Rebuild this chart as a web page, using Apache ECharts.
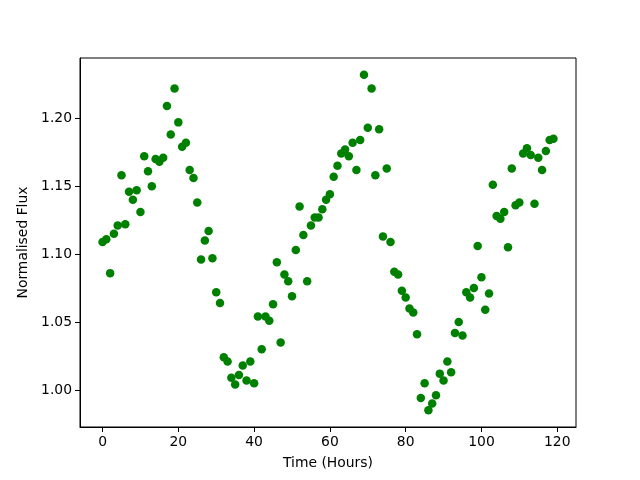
<!DOCTYPE html>
<html>
<head>
<meta charset="utf-8">
<script src="https://cdn.jsdelivr.net/npm/echarts@6/dist/echarts.min.js"></script>
<style>
  html, body { margin: 0; padding: 0; background: #fff; }
  #main { width: 640px; height: 480px; }
</style>
</head>
<body>
<div id="main"></div>
<script>
// 时间 (小时)
var hours = [];
for (var h = 0; h < 120; h++) hours.push(h);

// 归一化通量
var flux = [
  1.109, 1.111, 1.086, 1.115, 1.121, 1.158, 1.122, 1.146, 1.140, 1.147,
  1.131, 1.172, 1.161, 1.150, 1.170, 1.168, 1.171, 1.209, 1.188, 1.222,
  1.197, 1.179, 1.182, 1.162, 1.156, 1.138, 1.096, 1.110, 1.117, 1.097,
  1.072, 1.064, 1.024, 1.021, 1.009, 1.004, 1.011, 1.018, 1.007, 1.021,
  1.005, 1.054, 1.030, 1.054, 1.051, 1.063, 1.094, 1.035, 1.085, 1.080,
  1.069, 1.103, 1.135, 1.114, 1.080, 1.121, 1.127, 1.127, 1.133, 1.140,
  1.144, 1.157, 1.165, 1.174, 1.177, 1.172, 1.182, 1.162, 1.184, 1.232,
  1.193, 1.222, 1.158, 1.192, 1.113, 1.163, 1.109, 1.087, 1.085, 1.073,
  1.068, 1.060, 1.057, 1.041, 0.994, 1.005, 0.985, 0.990, 0.996, 1.012,
  1.007, 1.021, 1.013, 1.042, 1.050, 1.040, 1.072, 1.068, 1.075, 1.106,
  1.083, 1.059, 1.071, 1.151, 1.128, 1.126, 1.131, 1.105, 1.163, 1.136,
  1.138, 1.174, 1.178, 1.173, 1.137, 1.171, 1.162, 1.176, 1.184, 1.185
];

var xTicks = [0, 20, 40, 60, 80, 100, 120];
var yTicks = [1.00, 1.05, 1.10, 1.15, 1.20];

var data = hours.map(function (t, i) { return [t, flux[i]]; });

var font = 'DejaVu Sans';
var myChart = echarts.init(document.getElementById('main'));
var o = {
  backgroundColor: '#fff',
  animation: false,
  grid: {
    left: 80, right: 64, top: 58, bottom: 53,
    show: true, borderColor: '#000', borderWidth: 1, backgroundColor: 'transparent'
  },
  xAxis: {
    type: 'value',
    min: -5.95, max: 124.95,
    name: 'Time (Hours)',
    nameLocation: 'middle',
    nameGap: 29,
    nameTextStyle: { color: '#000', fontFamily: font, fontSize: 13.9 },
    splitLine: { show: false },
    axisLine: { show: true, onZero: false, lineStyle: { color: '#000' } },
    axisTick: { show: true, length: 5, customValues: xTicks, lineStyle: { color: '#000' } },
    axisLabel: {
      customValues: xTicks, margin: 8,
      color: '#000', fontFamily: font, fontSize: 13.9
    }
  },
  yAxis: {
    type: 'value',
    min: 0.9727, max: 1.2444,
    name: 'Normalised Flux',
    nameLocation: 'middle',
    nameGap: 44,
    nameTextStyle: { color: '#000', fontFamily: font, fontSize: 13.9 },
    splitLine: { show: false },
    axisLine: { show: true, onZero: false, lineStyle: { color: '#000' } },
    axisTick: { show: true, length: 5, customValues: yTicks, lineStyle: { color: '#000' } },
    axisLabel: {
      customValues: yTicks, margin: 8,
      color: '#000', fontFamily: font, fontSize: 13.9,
      formatter: function (v) { return v.toFixed(2); }
    }
  },
  series: [{
    type: 'scatter',
    data: data,
    symbolSize: 8.5,
    itemStyle: { color: '#008000', opacity: 1 }
  }]
};
myChart.setOption(o);
</script>
</body>
</html>
